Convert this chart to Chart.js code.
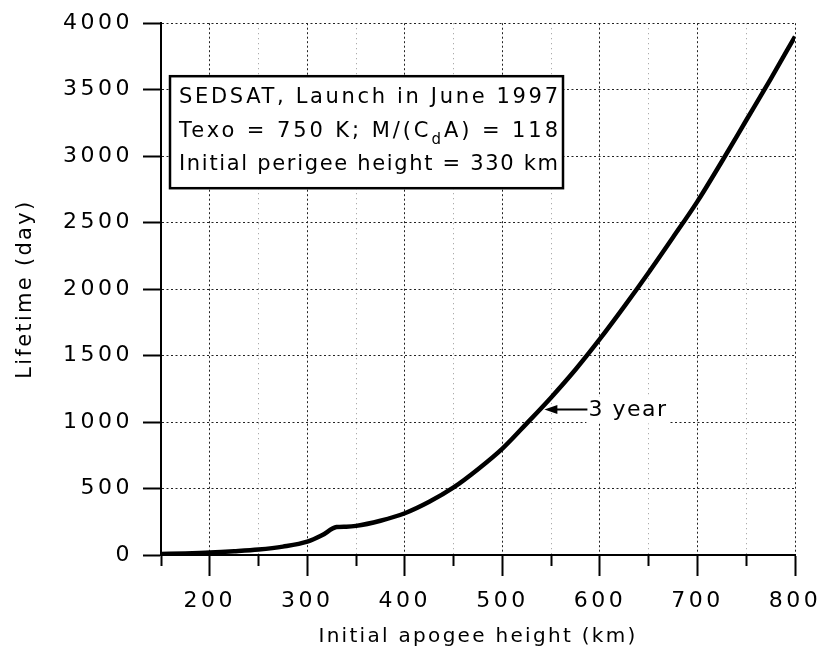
<!DOCTYPE html>
<html>
<head>
<meta charset="utf-8">
<script src="https://cdn.jsdelivr.net/npm/chart.js@4.4.1/dist/chart.umd.min.js"></script>
<style>
    html, body { margin: 0; padding: 0; background: #fff; }
    #wrap { width: 828px; height: 660px; }
</style>
</head>
<body>
<div id="wrap"><canvas id="lifeChart" width="828" height="660"></canvas></div>
<script>
// initial apogee height (km) vs orbital lifetime (day)
const apogeeHeights = [150, 175, 200, 225, 250, 275, 300, 315, 330, 340, 350, 375, 400, 425, 450, 475, 500, 525, 550, 575, 600, 625, 650, 675, 700, 725, 750, 775, 800];
const lifetimeDays = [8, 12, 18, 28, 41, 63, 100, 148, 210, 213, 219, 258, 314, 400, 508, 645, 800, 990, 1185, 1395, 1625, 1870, 2125, 2390, 2660, 2960, 3270, 3580, 3900];

const xRange = [150, 800];
const yRange = [0, 4000];

const boxLines = [
    'SEDSAT, Launch in June 1997',
    ['Texo = 750 K; M/(C', 'd', 'A) = 118'],
    'Initial perigee height = 330 km'
];
const markHeight = 540;
const markDays = 1095;
const markLabel = '3 year';

const FONT = "'DejaVu Sans', sans-serif";
Chart.defaults.font.family = FONT;
Chart.defaults.color = '#000';

function isMajor(c) {
    return !c.tick || c.tick.value % 100 === 0;
}

// text spacing, the scanned original is set very wide
const spacingPlugin = {
    id: 'spacing',
    beforeDraw(chart) { chart.ctx.letterSpacing = '2.3px'; },
    afterDatasetsDraw(chart) { chart.ctx.letterSpacing = '3.5px'; },
    afterDraw(chart) { chart.ctx.letterSpacing = '0px'; }
};

function drawSpaced(ctx, pieces, x, y, width) {
    ctx.letterSpacing = '0px';
    let natural = 0, chars = 0;
    pieces.forEach(p => {
        ctx.font = p[1];
        natural += ctx.measureText(p[0]).width;
        chars += p[0].length;
    });
    const gap = (width - natural) / (chars - 1);
    let cx = x;
    pieces.forEach(p => {
        ctx.font = p[1];
        ctx.letterSpacing = '0px';
        const w = ctx.measureText(p[0]).width;
        ctx.letterSpacing = gap + 'px';
        ctx.fillText(p[0], cx, y + p[2]);
        cx += w + p[0].length * gap;
    });
    ctx.letterSpacing = '0px';
}

const notesPlugin = {
    id: 'notes',
    afterDraw(chart) {
        const ctx = chart.ctx;
        const area = chart.chartArea;
        const xs = chart.scales.x, ys = chart.scales.y;
        ctx.save();

        // info box
        const bx = area.left + 9, by = area.top + 53, bw = 393, bh = 112;
        ctx.fillStyle = '#fff';
        ctx.fillRect(bx, by, bw, bh);
        ctx.strokeStyle = '#000';
        ctx.lineWidth = 2.5;
        ctx.strokeRect(bx, by, bw, bh);
        ctx.fillStyle = '#000';
        ctx.textBaseline = 'alphabetic';
        ctx.textAlign = 'left';
        const main = '21px ' + FONT;
        const sub = '15px ' + FONT;
        boxLines.forEach((line, i) => {
            const y = by + 27 + i * 33.5;
            const pieces = Array.isArray(line)
                ? [[line[0], main, 0], [line[1], sub, 7], [line[2], main, 0]]
                : [[line, main, 0]];
            drawSpaced(ctx, pieces, bx + 9, y, bw - 14);
        });

        // 3 year marker
        const tx = xs.getPixelForValue(markHeight) + 3;
        const ty = ys.getPixelForValue(markDays);
        const textX = tx + 44;
        ctx.font = '22px ' + FONT;
        ctx.letterSpacing = '1.5px';
        const tw = ctx.measureText(markLabel).width;
        ctx.fillStyle = '#fff';
        ctx.fillRect(textX - 2, ty - 13, tw + 4, 27);
        ctx.fillStyle = '#000';
        ctx.textBaseline = 'middle';
        ctx.fillText(markLabel, textX, ty + 1);
        ctx.letterSpacing = '0px';

        ctx.strokeStyle = '#000';
        ctx.lineWidth = 2;
        ctx.beginPath();
        ctx.moveTo(tx + 10, ty);
        ctx.lineTo(textX - 1, ty);
        ctx.stroke();
        ctx.beginPath();
        ctx.moveTo(tx, ty);
        ctx.lineTo(tx + 13, ty - 4.5);
        ctx.lineTo(tx + 13, ty + 4.5);
        ctx.closePath();
        ctx.fill();
        ctx.restore();
    }
};

function renderLifetimeChart() {
    const ctx = document.getElementById('lifeChart').getContext('2d');
    new Chart(ctx, {
        type: 'line',
        data: {
            datasets: [{
                label: 'Lifetime',
                data: apogeeHeights.map((h, i) => ({ x: h, y: lifetimeDays[i] })),
                borderColor: '#000',
                borderWidth: 4.5,
                pointRadius: 0,
                cubicInterpolationMode: 'monotone',
                fill: false
            }]
        },
        options: {
            responsive: false,
            animation: false,
            layout: { padding: { top: 19, right: 26, left: 0, bottom: 0 } },
            plugins: {
                legend: { display: false },
                tooltip: { enabled: false }
            },
            scales: {
                x: {
                    type: 'linear',
                    min: xRange[0],
                    max: xRange[1],
                    afterFit: s => { s.height = 105; },
                    border: {
                        color: '#000',
                        width: 2,
                        dash: c => isMajor(c) ? [2, 2.5] : [1, 4]
                    },
                    grid: {
                        color: c => isMajor(c) ? '#222' : '#999',
                        lineWidth: 1,
                        tickLength: 21,
                        tickColor: '#000',
                        tickWidth: 2,
                        tickBorderDash: c => isMajor(c) ? [] : [10, 100]
                    },
                    ticks: {
                        stepSize: 50,
                        autoSkip: false,
                        maxRotation: 0,
                        padding: 12,
                        z: 1,
                        font: { size: 22 },
                        callback: v => v % 100 === 0 ? String(v) : ''
                    },
                    title: {
                        display: true,
                        text: 'Initial apogee height (km)',
                        font: { size: 20 },
                        padding: { top: 0, bottom: 11 }
                    }
                },
                y: {
                    min: yRange[0],
                    max: yRange[1],
                    afterFit: s => { s.width = 161; },
                    border: { color: '#000', width: 2, dash: [2, 2.5] },
                    grid: {
                        color: '#222',
                        lineWidth: 1,
                        tickLength: 18,
                        tickColor: '#000',
                        tickWidth: 2,
                        tickBorderDash: []
                    },
                    ticks: {
                        stepSize: 500,
                        padding: 10,
                        z: 1,
                        font: { size: 22 },
                        callback: v => String(v)
                    },
                    title: {
                        display: true,
                        text: 'Lifetime (day)',
                        font: { size: 21 },
                        padding: { top: 13, bottom: 0 }
                    }
                }
            }
        },
        plugins: [spacingPlugin, notesPlugin]
    });
}

renderLifetimeChart();
</script>
</body>
</html>
